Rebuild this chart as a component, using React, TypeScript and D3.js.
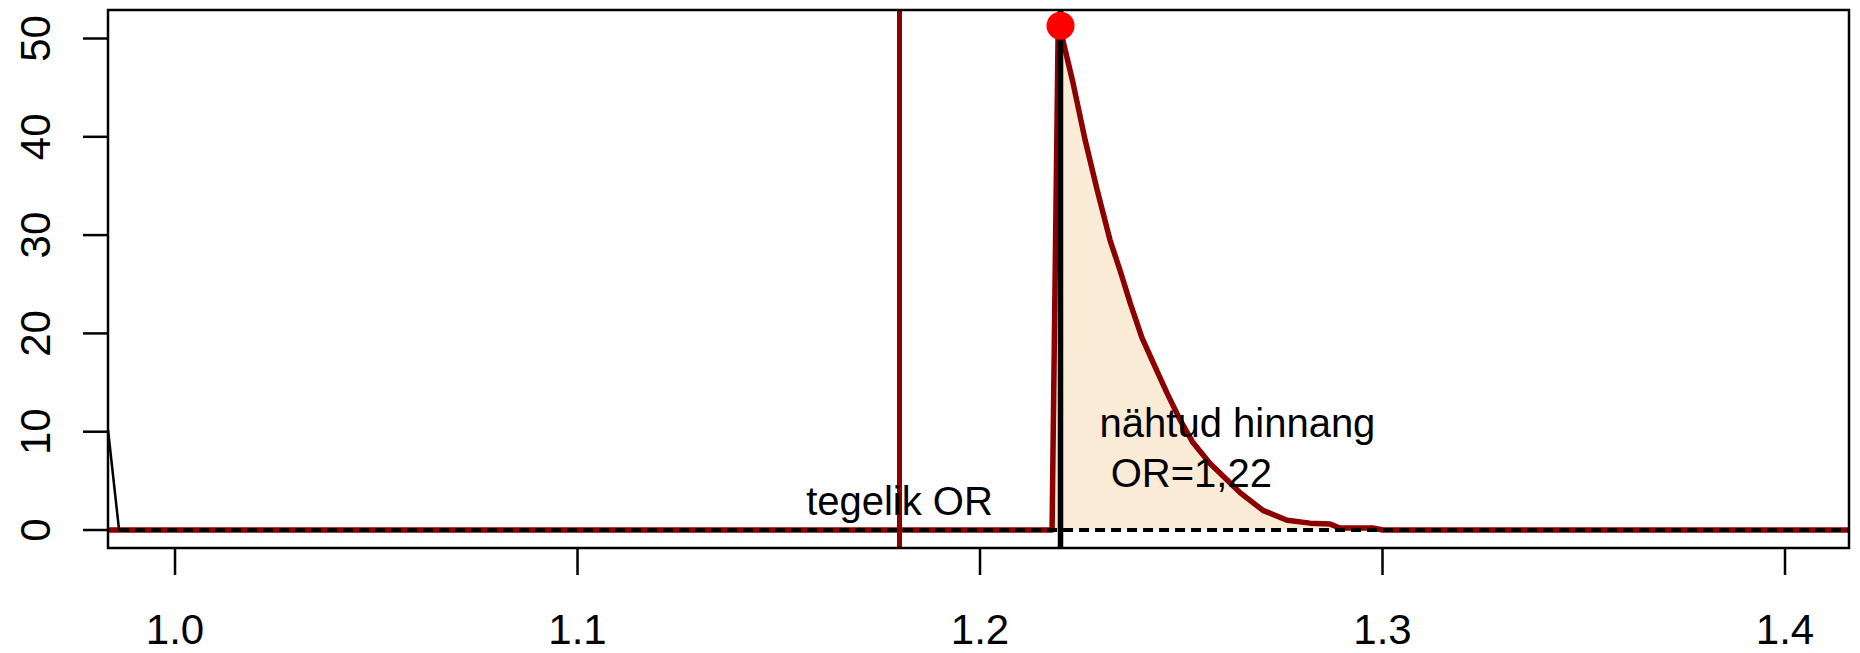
import React from "react";
import * as d3 from "d3";

// ---- data ----
const densityX = [0.98, 1.2179, 1.2194, 1.22, 1.2206, 1.2231, 1.2261, 1.2291, 1.2323, 1.2348, 1.2373, 1.2402, 1.2435, 1.2465, 1.2497, 1.2529, 1.2571, 1.2621, 1.2646, 1.2703, 1.2763, 1.282, 1.287, 1.2894, 1.2976, 1.3001, 1.42];
const densityY = [0, 0, 50.5, 51.3, 49.8, 45.5, 39.7, 34.6, 29.5, 26.4, 23.1, 19.6, 16.6, 13.9, 11.2, 8.9, 6.8, 4.8, 3.8, 2.0, 1.0, 0.7, 0.6, 0.2, 0.2, 0, 0];
const nullX = [0.98335, 0.9861];
const nullY = [10.2, 0];
const baselineX = [0.9861, 1.42];
const trueOR = 1.18;
const estOR = 1.22;
const peakDensity = 51.3;
const xTicks = [1.0, 1.1, 1.2, 1.3, 1.4];
const yTicks = [0, 10, 20, 30, 40, 50];
const trueLabel = "tegelik OR";
const estLabel1 = "nähtud hinnang";
const estLabel2 = " OR=1,22";

const W = 1860;
const H = 653;
const L = 108, R = 1849, T = 10, B = 548;
const FONT = "'Liberation Sans', Arial, Helvetica, sans-serif";

export default function App() {
  const x = d3.scaleLinear().domain([0.98335, 1.4159]).range([L, R]);
  const y = d3.scaleLinear().domain([-1.83, 52.9]).range([B, T]);

  const pts: [number, number][] = densityX.map((v, i) => [v, densityY[i]]);
  const line = d3.line<[number, number]>().x(d => x(d[0])).y(d => y(d[1]));
  const area = d3.area<[number, number]>().x(d => x(d[0])).y0(y(0)).y1(d => y(d[1]));
  const nullPts: [number, number][] = nullX.map((v, i) => [v, nullY[i]]);

  return (
    <div style={{ position: "absolute", left: 0, top: 0 }}>
      <svg width={W} height={H} style={{ display: "block", background: "#fff" }} fontFamily={FONT}>
        <defs>
          <clipPath id="plotclip">
            <rect x={L} y={T} width={R - L} height={B - T} />
          </clipPath>
        </defs>
        <rect x={0} y={0} width={W} height={H} fill="#fff" />
        <g clipPath="url(#plotclip)">
          <path d={area(pts) || ""} fill="#FAEBD7" stroke="none" />
          <path d={line(pts) || ""} fill="none" stroke="#8B0000" strokeWidth={5.5} strokeLinejoin="round" />
          <path d={line(nullPts) || ""} fill="none" stroke="#000" strokeWidth={2.5} />
          <line x1={x(baselineX[0])} x2={x(baselineX[1])} y1={y(0)} y2={y(0)} stroke="#000" strokeWidth={4} strokeDasharray="10,6" />
          <line x1={x(trueOR)} x2={x(trueOR)} y1={T - 5} y2={B + 5} stroke="#8B0000" strokeWidth={5} />
          <line x1={x(estOR)} x2={x(estOR)} y1={T - 5} y2={B + 5} stroke="#000" strokeWidth={5.5} />
        </g>
        <circle cx={x(estOR)} cy={y(peakDensity)} r={14} fill="#FF0000" />
        <rect x={L} y={T} width={R - L} height={B - T} fill="none" stroke="#000" strokeWidth={2.5} />
        {xTicks.map(t => (
          <g key={"x" + t}>
            <line x1={x(t)} x2={x(t)} y1={B} y2={B + 27} stroke="#000" strokeWidth={2.5} />
            <text x={x(t)} y={644} textAnchor="middle" fontSize={42} fill="#000">{t.toFixed(1)}</text>
          </g>
        ))}
        {yTicks.map(t => (
          <g key={"y" + t}>
            <line x1={L - 25} x2={L} y1={y(t)} y2={y(t)} stroke="#000" strokeWidth={2.5} />
            <text transform={`translate(50,${y(t)}) rotate(-90)`} textAnchor="middle" fontSize={42} fill="#000">{t}</text>
          </g>
        ))}
        <text x={x(trueOR)} y={y(1.5)} textAnchor="middle" fontSize={40} fill="#000">{trueLabel}</text>
        <text x={x(1.2297)} y={y(9.46)} fontSize={40} fill="#000" style={{ whiteSpace: "pre" }}>
          <tspan x={x(1.2297)}>{estLabel1}</tspan>
          <tspan x={x(1.2297)} dy={50} style={{ whiteSpace: "pre" }}>{estLabel2}</tspan>
        </text>
      </svg>
    </div>
  );
}
